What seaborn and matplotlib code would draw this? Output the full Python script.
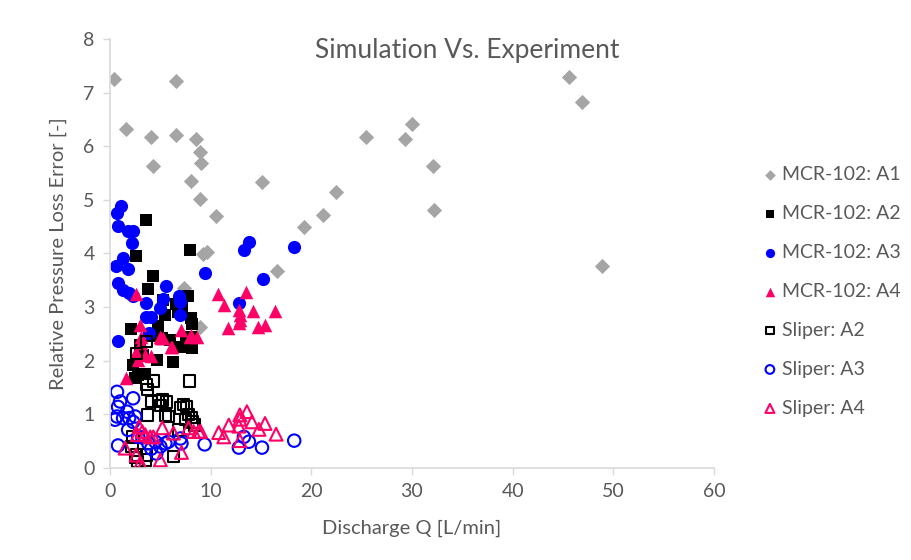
import matplotlib
matplotlib.use("Agg")
import matplotlib.pyplot as plt
import seaborn as sns
import pandas as pd

# Discharge Q [L/min] and relative pressure loss error for each data series
mcr_a1_q = [0.4, 6.6, 1.6, 4.1, 6.6, 8.5, 8.9, 9.0, 4.3, 8.0, 8.9, 10.5, 15.1, 22.5, 21.2,
            19.3, 45.6, 46.9, 30.0, 25.4, 29.3, 32.1, 32.2, 48.9, 16.6, 9.2, 9.6, 7.4, 8.9]
mcr_a1_err = [7.26, 7.21, 6.32, 6.18, 6.21, 6.13, 5.89, 5.68, 5.63, 5.36, 5.02, 4.70, 5.33, 5.14, 4.71,
              4.50, 7.29, 6.83, 6.41, 6.18, 6.14, 5.64, 4.81, 3.76, 3.68, 3.99, 4.02, 3.35, 2.62]

mcr_a2_q = [3.6, 7.9, 2.6, 4.3, 3.8, 7.7, 5.3, 6.6, 7.2, 5.5, 8.0, 4.8, 2.1, 8.1, 6.0,
            7.0, 8.1, 4.7, 6.3, 2.3, 2.8, 3.5, 2.5, 5.2, 7.6, 4.2, 3.3, 8.0, 6.8, 3.0]
mcr_a2_err = [4.63, 4.07, 3.95, 3.58, 3.33, 3.20, 3.13, 3.06, 2.98, 2.85, 2.80, 2.64, 2.59, 2.68, 2.39,
              2.26, 2.23, 2.02, 1.97, 1.92, 1.73, 1.75, 1.68, 2.42, 2.35, 2.47, 2.10, 2.45, 2.90, 2.30]

mcr_a3_q = [1.1, 0.7, 0.8, 1.8, 2.3, 2.2, 1.3, 0.6, 1.8, 9.4, 0.8, 1.3, 5.6, 13.8, 13.3,
            18.3, 15.2, 12.8, 0.8, 1.9, 2.3, 3.6, 5.3, 5.0, 6.9, 7.0, 3.6, 4.1, 3.9, 7.0]
mcr_a3_err = [4.88, 4.75, 4.52, 4.41, 4.42, 4.19, 3.92, 3.77, 3.71, 3.64, 3.45, 3.32, 3.40, 4.22, 4.07,
              4.13, 3.52, 3.08, 2.36, 3.26, 3.20, 3.08, 3.15, 2.98, 3.20, 2.85, 2.82, 2.82, 2.51, 3.10]

mcr_a4_q = [10.7, 11.3, 13.5, 12.8, 12.9, 12.9, 12.8, 14.2, 16.4, 11.7, 14.7, 15.4, 7.1, 7.9, 8.6,
            6.1, 5.1, 2.6, 3.0, 3.1, 5.0, 5.3, 8.0, 6.2, 2.6, 3.5, 4.1, 1.6, 3.1, 2.8]
mcr_a4_err = [3.24, 3.04, 3.28, 2.95, 2.85, 2.76, 2.70, 2.93, 2.93, 2.61, 2.62, 2.67, 2.57, 2.45, 2.45,
              2.26, 2.42, 3.24, 2.67, 2.45, 2.45, 2.42, 2.48, 2.26, 2.17, 2.11, 2.08, 1.67, 2.33, 2.01]

sliper_a2_q = [4.3, 7.9, 3.6, 3.7, 4.1, 4.8, 5.2, 5.6, 5.0, 7.3, 7.6, 3.7, 5.5, 5.8, 7.8, 8.1,
               8.2, 8.4, 7.5, 6.8, 2.3, 2.2, 2.6, 3.5, 2.5, 3.6, 6.3, 2.6, 3.6, 7.0, 2.7]
sliper_a2_err = [1.62, 1.62, 1.56, 1.47, 1.24, 1.25, 1.27, 1.23, 1.16, 1.18, 1.14, 0.99, 0.99, 0.96, 1.00, 0.94,
                 0.86, 0.80, 0.90, 0.71, 0.58, 0.40, 0.24, 0.15, 0.19, 0.24, 0.22, 2.14, 2.36, 1.12, 0.12]

sliper_a3_q = [0.7, 2.3, 1.0, 0.8, 1.7, 0.7, 1.3, 1.9, 2.5, 0.5, 1.8, 0.8, 2.8, 3.8, 4.5,
               5.0, 5.5, 5.8, 7.0, 7.1, 4.6, 9.4, 13.3, 13.8, 12.8, 15.1, 18.3, 3.2, 2.3, 4.1]
sliper_a3_err = [1.42, 1.30, 1.24, 1.14, 1.05, 0.96, 0.93, 0.93, 0.96, 0.90, 0.71, 0.42, 0.58, 0.46, 0.49,
                 0.40, 0.46, 0.49, 0.55, 0.46, 0.27, 0.44, 0.58, 0.49, 0.38, 0.38, 0.51, 0.57, 0.86, 0.36]

sliper_a4_q = [13.6, 12.9, 12.9, 14.1, 15.4, 11.8, 12.8, 14.8, 10.8, 11.3, 16.5, 12.9, 9.0, 2.9, 3.2,
               2.7, 3.5, 4.0, 4.3, 5.2, 6.3, 7.8, 8.3, 8.8, 1.5, 2.6, 3.0, 3.2, 5.0, 7.1]
sliper_a4_err = [1.05, 0.99, 0.91, 0.86, 0.83, 0.80, 0.78, 0.72, 0.66, 0.58, 0.63, 0.51, 0.68, 0.77, 0.68,
                 0.62, 0.62, 0.58, 0.58, 0.75, 0.65, 0.75, 0.68, 0.68, 0.37, 0.24, 0.09, 0.02, 0.15, 0.29]

series_names = ["MCR-102: A1", "MCR-102: A2", "MCR-102: A3", "MCR-102: A4",
                "Sliper: A2", "Sliper: A3", "Sliper: A4"]
x_ticks = [0, 10, 20, 30, 40, 50, 60]
y_ticks = [0, 1, 2, 3, 4, 5, 6, 7, 8]

series_data = [
    (mcr_a1_q, mcr_a1_err),
    (mcr_a2_q, mcr_a2_err),
    (mcr_a3_q, mcr_a3_err),
    (mcr_a4_q, mcr_a4_err),
    (sliper_a2_q, sliper_a2_err),
    (sliper_a3_q, sliper_a3_err),
    (sliper_a4_q, sliper_a4_err),
]

frames = []
for name, (q, err) in zip(series_names, series_data):
    frames.append(pd.DataFrame({"Q": q, "err": err, "series": name}))
df = pd.concat(frames, ignore_index=True)

# marker, colour, filled?, size
styles = {
    "MCR-102: A1": ("D", "#A5A5A5", True, 60),
    "MCR-102: A2": ("s", "#000000", True, 75),
    "MCR-102: A3": ("o", "#0000FF", True, 90),
    "MCR-102: A4": ("^", "#FF0066", True, 95),
    "Sliper: A2": ("s", "#000000", False, 66),
    "Sliper: A3": ("o", "#0000FF", False, 80),
    "Sliper: A4": ("^", "#FF0066", False, 85),
}

sns.set_theme(style="white")
plt.rcParams["font.family"] = ["Lato", "DejaVu Sans"]
text_col = "#595959"

fig = plt.figure(figsize=(9.12, 5.6), dpi=100)
ax = fig.add_axes([0.1206, 0.1643, 0.6623, 0.7661])

for name in series_names:
    marker, col, filled, size = styles[name]
    sub = df[df["series"] == name]
    if filled:
        sns.scatterplot(data=sub, x="Q", y="err", ax=ax, marker=marker, s=size,
                        color=col, edgecolor=col, linewidth=0, label=name)
    else:
        sns.scatterplot(data=sub, x="Q", y="err", ax=ax, marker=marker, s=size,
                        facecolor="none", edgecolor=col, linewidth=1.5, label=name)

ax.set_xlim(0, 60)
ax.set_ylim(0, 8)
ax.set_xticks(x_ticks)
ax.set_yticks(y_ticks)
ax.tick_params(axis="both", labelsize=14, labelcolor=text_col, color="#D9D9D9",
               length=5, width=1, direction="out", bottom=True, left=True, pad=6)
for side in ["top", "right"]:
    ax.spines[side].set_visible(False)
for side in ["left", "bottom"]:
    ax.spines[side].set_color("#D9D9D9")
    ax.spines[side].set_linewidth(1.2)

ax.set_xlabel("Discharge Q [L/min]", fontsize=14.5, color=text_col, labelpad=14)
ax.set_ylabel("Relative Pressure Loss Error [-]", fontsize=14.5, color=text_col, labelpad=12)
fig.text(0.512, 0.91, "Simulation Vs. Experiment", fontsize=19, color=text_col,
         ha="center", va="center")

handles, labels = ax.get_legend_handles_labels()
ax.legend_.remove()
fig.legend(handles, labels, loc="upper left", bbox_to_anchor=(0.825, 0.718),
           frameon=False, fontsize=14, labelcolor=text_col, labelspacing=1.13,
           handletextpad=0.1, handlelength=1.0, markerscale=0.7, borderaxespad=0)

fig.savefig("out.png", dpi=100)
